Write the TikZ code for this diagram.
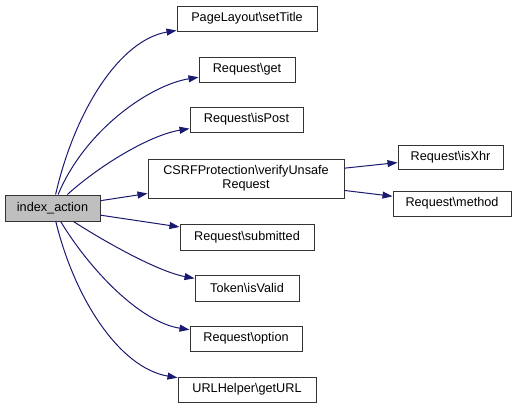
\documentclass[tikz,border=0pt]{standalone}
\usepackage{fontspec}
\setmainfont{Liberation Sans}
\usetikzlibrary{arrows.meta}
\newcommand{\bsl}{\textbackslash}
\definecolor{edgeblue}{HTML}{191970}
\definecolor{idxgray}{HTML}{BFBFBF}
\begin{document}
\begin{tikzpicture}[x=0.75pt,y=-0.75pt,
  box/.style={draw=black!80,line width=0.75pt,fill=white,inner sep=0pt,minimum height=18.75pt,font=\fontsize{9.5}{10.5}\selectfont,align=center},
  arr/.style={draw=edgeblue,line width=0.75pt,-{Triangle[length=7.5pt,width=5.2pt]}}]
\useasboundingbox (0,0) rectangle (516,408);
\node[box,fill=idxgray,minimum width=71.25pt,minimum height=19.5pt] (idx) at (52.5,208) {index\_action};
\node[box,minimum width=105pt] (p1) at (247,18.5) {PageLayout\bsl setTitle};
\node[box,minimum width=72pt] (p2) at (247,69.5) {Request\bsl get};
\node[box,minimum width=84.75pt] (p3) at (246.5,119.5) {Request\bsl isPost};
\node[box,minimum width=147pt,minimum height=29.25pt] (p4) at (246,178.5) {CSRFProtection\bsl verifyUnsafe\\Request};
\node[box,minimum width=100.5pt,minimum height=19.5pt] (p5) at (247,237) {Request\bsl submitted};
\node[box,minimum width=78pt,minimum height=19.5pt] (p6) at (247,288) {Token\bsl isValid};
\node[box,minimum width=84pt] (p7) at (246,338.5) {Request\bsl option};
\node[box,minimum width=103.5pt] (p8) at (247,389.5) {URLHelper\bsl getURL};
\node[box,minimum width=78.75pt,minimum height=18pt] (q1) at (450.5,157) {Request\bsl isXhr};
\node[box,minimum width=88.5pt] (q2) at (452,203.5) {Request\bsl method};
\draw[arr] (idx) .. controls (75,110) and (120,40) .. (p1);
\draw[arr] (idx) .. controls (85,130) and (150,85) .. (p2);
\draw[arr] (idx) .. controls (100,165) and (150,135) .. (p3);
\draw[arr] (idx) -- (p4);
\draw[arr] (idx) -- (p5);
\draw[arr] (idx) .. controls (110,245) and (160,272) .. (p6);
\draw[arr] (idx) .. controls (90,270) and (140,322) .. (p7);
\draw[arr] (idx) .. controls (75,300) and (120,368) .. (p8);
\draw[arr] (p4) -- (q1);
\draw[arr] (p4) -- (q2);
\end{tikzpicture}
\end{document}
